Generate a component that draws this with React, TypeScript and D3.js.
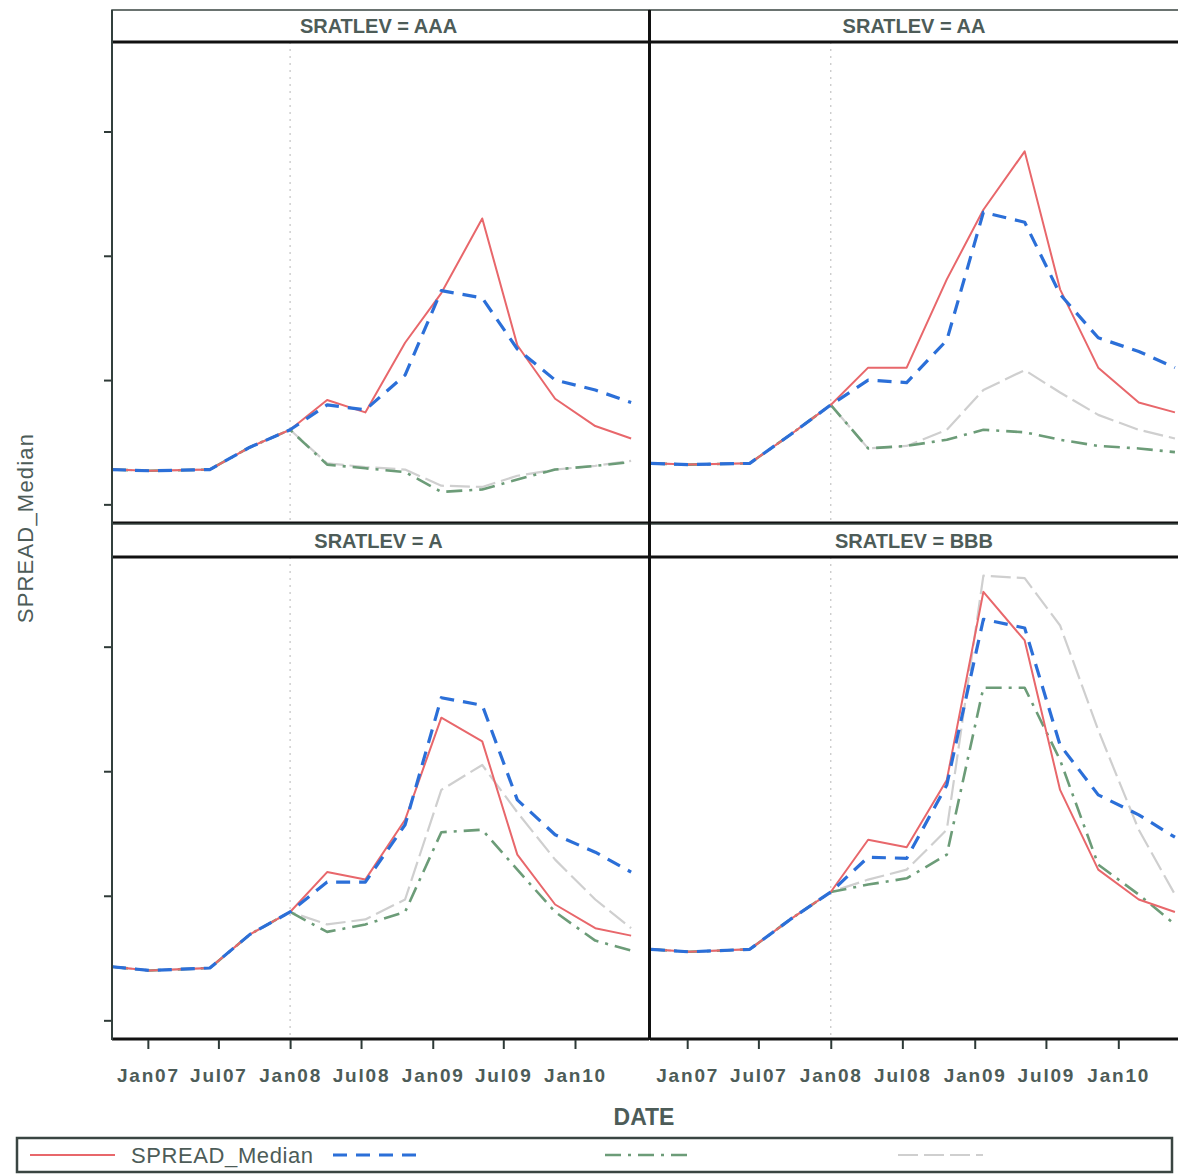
import * as d3 from "d3";
import { useEffect, useRef } from "react";

const dates = [
  "2006-10-01", "2007-01-06", "2007-06-09", "2007-09-20", "2008-01-01",
  "2008-04-05", "2008-07-12", "2008-10-22", "2009-01-23", "2009-05-08",
  "2009-08-06", "2009-11-11", "2010-02-22", "2010-05-25",
];
const panels = ["AAA", "AA", "A", "BBB"];
const xTicks = ["2007-01-01", "2007-07-01", "2008-01-01", "2008-07-01", "2009-01-01", "2009-07-01", "2010-01-01"];
const yTicks = [0, 1, 2, 3];
const refDate = "2008-01-01";
const legendLabels = ["SPREAD_Median", "", "", ""];

// SRATLEV = AAA
const medianAAA = [0.28, 0.27, 0.28, 0.46, 0.6, 0.84, 0.74, 1.3, 1.7, 2.3, 1.28, 0.85, 0.63, 0.53];
const dashAAA = [0.28, 0.27, 0.28, 0.46, 0.6, 0.8, 0.76, 1.04, 1.72, 1.66, 1.25, 1.0, 0.92, 0.82];
const dotAAA = [0.28, 0.27, 0.28, 0.46, 0.6, 0.32, 0.29, 0.26, 0.1, 0.12, 0.2, 0.28, 0.31, 0.34];
const lightAAA = [0.28, 0.27, 0.28, 0.46, 0.6, 0.33, 0.3, 0.28, 0.15, 0.14, 0.23, 0.28, 0.31, 0.35];

// SRATLEV = AA
const medianAA = [0.33, 0.32, 0.33, 0.56, 0.8, 1.1, 1.1, 1.81, 2.37, 2.84, 1.73, 1.1, 0.82, 0.74];
const dashAA = [0.33, 0.32, 0.33, 0.56, 0.8, 1.0, 0.98, 1.32, 2.35, 2.27, 1.69, 1.34, 1.23, 1.1];
const dotAA = [0.33, 0.32, 0.33, 0.56, 0.8, 0.45, 0.47, 0.52, 0.6, 0.58, 0.52, 0.47, 0.45, 0.42];
const lightAA = [0.33, 0.32, 0.33, 0.56, 0.8, 0.45, 0.47, 0.6, 0.92, 1.08, 0.9, 0.72, 0.6, 0.53];

// SRATLEV = A
const medianA = [0.43, 0.4, 0.42, 0.69, 0.87, 1.19, 1.13, 1.61, 2.43, 2.24, 1.33, 0.93, 0.74, 0.68];
const dashA = [0.43, 0.4, 0.42, 0.69, 0.87, 1.11, 1.11, 1.57, 2.59, 2.53, 1.77, 1.49, 1.35, 1.19];
const dotA = [0.43, 0.4, 0.42, 0.69, 0.87, 0.71, 0.77, 0.87, 1.51, 1.53, 1.21, 0.87, 0.64, 0.56];
const lightA = [0.43, 0.4, 0.42, 0.69, 0.87, 0.77, 0.81, 0.97, 1.85, 2.05, 1.67, 1.29, 0.97, 0.74];

// SRATLEV = BBB
const medianBBB = [0.57, 0.55, 0.57, 0.81, 1.03, 1.45, 1.39, 1.93, 3.44, 3.05, 1.85, 1.21, 0.97, 0.87];
const dashBBB = [0.57, 0.55, 0.57, 0.81, 1.03, 1.31, 1.3, 1.89, 3.22, 3.15, 2.21, 1.81, 1.65, 1.47];
const dotBBB = [0.57, 0.55, 0.57, 0.81, 1.03, 1.09, 1.14, 1.33, 2.67, 2.67, 2.09, 1.25, 1.01, 0.77];
const lightBBB = [0.57, 0.55, 0.57, 0.81, 1.03, 1.13, 1.21, 1.53, 3.57, 3.55, 3.17, 2.33, 1.53, 1.01];

const panelData = [
  [lightAAA, dotAAA, medianAAA, dashAAA],
  [lightAA, dotAA, medianAA, dashAA],
  [lightA, dotA, medianA, dashA],
  [lightBBB, dotBBB, medianBBB, dashBBB],
];

// styles in the same order as panelData rows (light, dash-dot, median, dashed)
const styles = [
  { color: "#cfcfcf", width: 2.2, dash: "20,6" },
  { color: "#6c9c78", width: 2.6, dash: "16,7,3,7" },
  { color: "#e8676b", width: 2, dash: null },
  { color: "#2b6fd8", width: 3.2, dash: "14,9" },
];
const legendOrder = [2, 3, 1, 0];

const W = 1178, H = 1174;
const ink = "#4d5c58";
const font = "'Liberation Sans', Arial, sans-serif";

export default function App() {
  const ref = useRef<SVGSVGElement>(null);

  useEffect(() => {
    const svg = d3.select(ref.current);
    svg.selectAll("*").remove();

    const parse = d3.timeParse("%Y-%m-%d");
    const dts = dates.map(d => parse(d) as Date);
    const domain = [parse("2006-10-01") as Date, parse("2010-07-15") as Date];

    const cols = [
      { left: 112, right: 649, x: d3.scaleTime().domain(domain).range([112, 651]) },
      { left: 650, right: 1200, x: d3.scaleTime().domain(domain).range([651, 1195]) },
    ];
    const rows = [
      { top: 10, head: 42, bottom: 523 },
      { top: 524, head: 557, bottom: 1039 },
    ];

    const defs = svg.append("defs");

    panels.forEach((name, i) => {
      const col = cols[i % 2], row = rows[Math.floor(i / 2)];
      const x = col.x;
      const y = d3.scaleLinear().domain([-0.15, 3.72]).range([row.bottom, row.head]);
      const g = svg.append("g");

      defs.append("clipPath").attr("id", `clip${i}`)
        .append("rect")
        .attr("x", col.left).attr("y", row.head)
        .attr("width", col.right - col.left).attr("height", row.bottom - row.head);

      // header strip
      g.append("rect")
        .attr("x", col.left).attr("y", row.top)
        .attr("width", col.right - col.left).attr("height", row.head - row.top)
        .attr("fill", "#fff").attr("stroke", "#3a4542").attr("stroke-width", 1.5);
      g.append("text")
        .attr("x", i % 2 ? 914 : (col.left + col.right) / 2 - 2)
        .attr("y", (row.top + row.head) / 2 + 7)
        .attr("text-anchor", "middle")
        .attr("font-family", font).attr("font-weight", "bold").attr("font-size", 20)
        .attr("fill", ink)
        .text(`SRATLEV = ${name}`);

      // reference line at Jan08
      g.append("line")
        .attr("x1", x(parse(refDate) as Date)).attr("x2", x(parse(refDate) as Date))
        .attr("y1", row.head).attr("y2", row.bottom)
        .attr("stroke", "#c8c8c8").attr("stroke-width", 1.3).attr("stroke-dasharray", "2,5");

      const line = d3.line<number>()
        .x((_, j) => x(dts[j]))
        .y(v => y(v));

      const lines = g.append("g").attr("clip-path", `url(#clip${i})`);
      panelData[i].forEach((vals, s) => {
        const st = styles[s];
        lines.append("path")
          .datum(vals)
          .attr("fill", "none")
          .attr("stroke", st.color)
          .attr("stroke-width", st.width)
          .attr("stroke-dasharray", st.dash)
          .attr("stroke-linejoin", "round")
          .attr("d", line);
      });

      // header divider + bottom frame
      g.append("line")
        .attr("x1", col.left).attr("x2", col.right)
        .attr("y1", row.head).attr("y2", row.head)
        .attr("stroke", "#111").attr("stroke-width", 3);
      g.append("line")
        .attr("x1", col.left).attr("x2", col.right)
        .attr("y1", row.bottom).attr("y2", row.bottom)
        .attr("stroke", "#111").attr("stroke-width", 3);

      // y ticks on the left column only, no labels
      if (i % 2 === 0) {
        svg.append("g")
          .attr("transform", `translate(${col.left},0)`)
          .call(d3.axisLeft(y).tickValues(yTicks).tickSize(8).tickFormat(() => ""))
          .call(a => a.select(".domain").remove())
          .call(a => a.selectAll("line").attr("stroke", "#2e3a37").attr("stroke-width", 2));
      }

      // x axis under bottom row
      if (i >= 2) {
        svg.append("g")
          .attr("transform", `translate(0,${row.bottom + 1})`)
          .call(d3.axisBottom(x)
            .tickValues(xTicks.map(t => parse(t) as Date))
            .tickSize(9).tickPadding(20)
            .tickFormat(d => d3.timeFormat("%b%y")(d as Date)))
          .call(a => a.select(".domain").remove())
          .call(a => a.selectAll("line").attr("stroke", "#2e3a37").attr("stroke-width", 2))
          .call(a => a.selectAll("text")
            .attr("font-family", font).attr("font-weight", "bold").attr("font-size", 19)
            .attr("letter-spacing", 1.8).attr("fill", ink));
      }
    });

    // left axis line and column divider
    svg.append("line")
      .attr("x1", 112).attr("x2", 112).attr("y1", 10).attr("y2", 1040)
      .attr("stroke", "#33403d").attr("stroke-width", 2);
    svg.append("line")
      .attr("x1", 649.5).attr("x2", 649.5).attr("y1", 10).attr("y2", 1040)
      .attr("stroke", "#111").attr("stroke-width", 3);

    // axis titles
    svg.append("text")
      .attr("x", 644).attr("y", 1125)
      .attr("text-anchor", "middle")
      .attr("font-family", font).attr("font-weight", "bold").attr("font-size", 23)
      .attr("fill", ink)
      .text("DATE");
    svg.append("text")
      .attr("transform", "translate(33,528) rotate(-90)")
      .attr("text-anchor", "middle")
      .attr("font-family", font).attr("font-size", 22).attr("letter-spacing", 1.2)
      .attr("fill", ink)
      .text("SPREAD_Median");

    // legend
    const lg = svg.append("g");
    lg.append("rect")
      .attr("x", 17).attr("y", 1138).attr("width", 1155).attr("height", 34)
      .attr("fill", "#fff").attr("stroke", "#3a4542").attr("stroke-width", 2.5);
    const slots = [30, 333, 605, 898];
    legendOrder.forEach((s, k) => {
      const st = styles[s];
      const x0 = slots[k];
      lg.append("line")
        .attr("x1", x0).attr("x2", x0 + 85)
        .attr("y1", 1155).attr("y2", 1155)
        .attr("stroke", st.color).attr("stroke-width", st.width)
        .attr("stroke-dasharray", st.dash);
      if (legendLabels[k]) {
        lg.append("text")
          .attr("x", x0 + 101).attr("y", 1163)
          .attr("font-family", font).attr("font-size", 22).attr("letter-spacing", 0.6)
          .attr("fill", ink)
          .text(legendLabels[k]);
      }
    });
  }, []);

  return (
    <div style={{ position: "absolute", left: 0, top: 0 }}>
      <svg ref={ref} width={W} height={H} style={{ display: "block", background: "#fff" }} />
    </div>
  );
}
